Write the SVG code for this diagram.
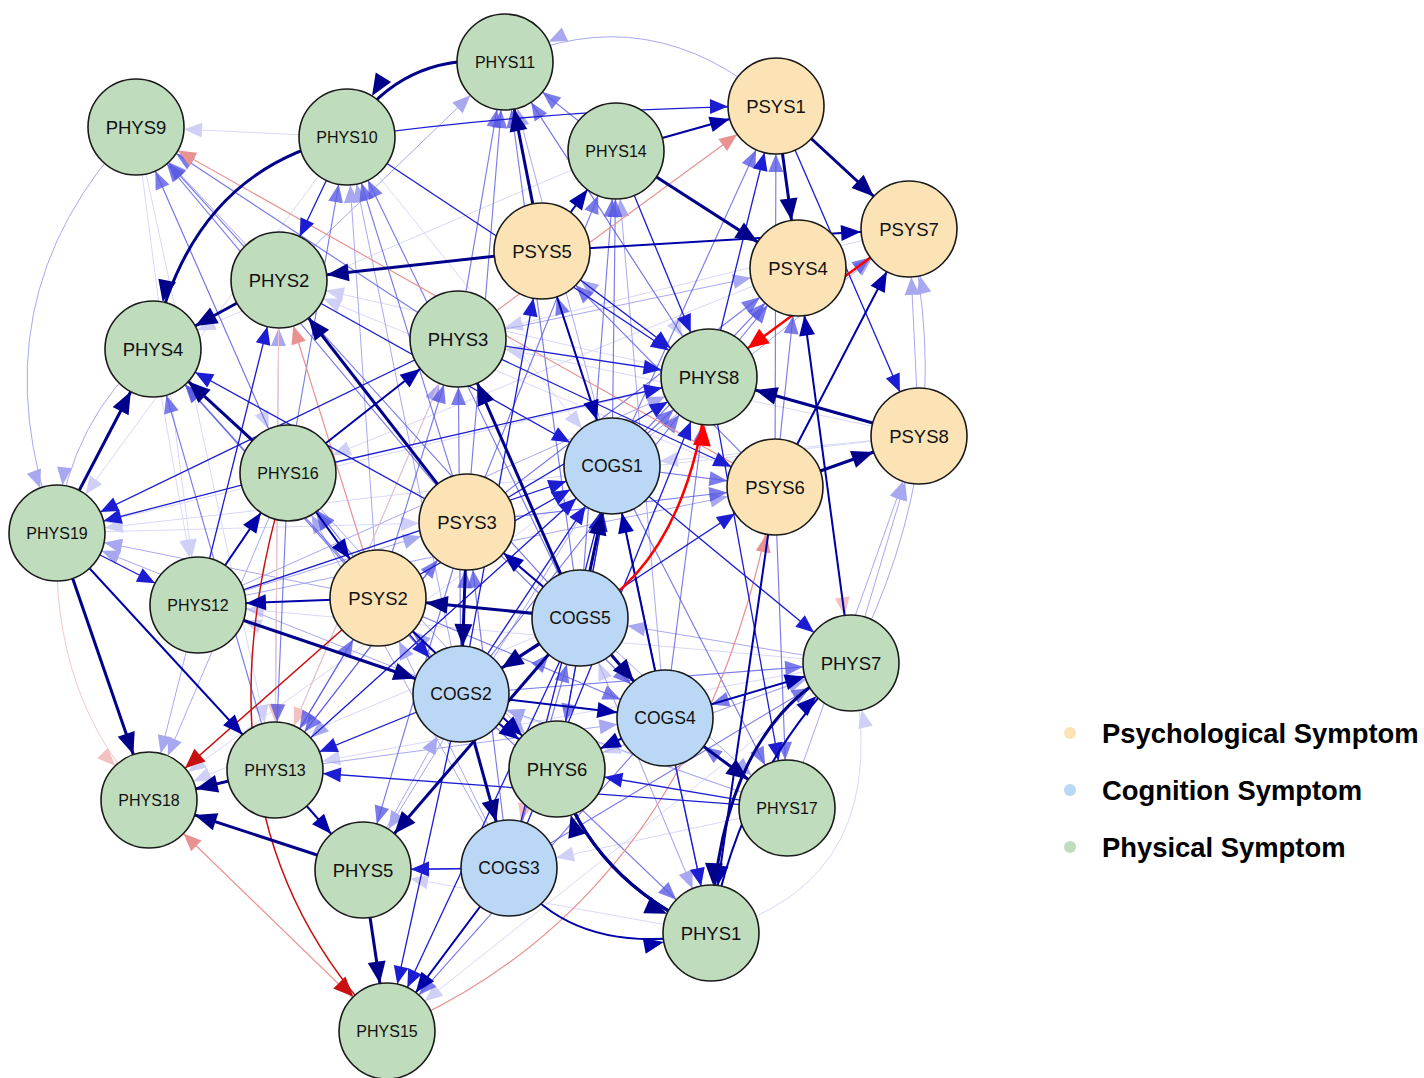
<svg xmlns="http://www.w3.org/2000/svg" width="1424" height="1078" viewBox="0 0 1424 1078">
<style>
.e1{stroke:#00008b;stroke-width:3;fill:none;marker-end:url(#a1)}
.e2{stroke:#0000a8;stroke-width:2;fill:none;marker-end:url(#a2)}
.e3{stroke:#1c1cd2;stroke-width:1.3;fill:none;marker-end:url(#a3)}
.e4{stroke:#5a5ae4;stroke-opacity:.8;stroke-width:1.15;fill:none;marker-end:url(#a4)}
.e5{stroke:#a8a8f0;stroke-width:1;fill:none;marker-end:url(#a5)}
.e6{stroke:#d8d8f9;stroke-width:1;fill:none;marker-end:url(#a6)}
.r1{stroke:#ff0000;stroke-width:2.5;fill:none;marker-end:url(#b1)}
.r2{stroke:#c81010;stroke-width:1.5;fill:none;marker-end:url(#b2)}
.r3{stroke:#e89292;stroke-width:1.2;fill:none;marker-end:url(#b3)}
.r4{stroke:#f4c8c8;stroke-width:1;fill:none;marker-end:url(#b4)}
.n circle{stroke:#1a1a1a;stroke-width:1.6}
.ph{fill:#bfdcbd}.ps{fill:#fbe3b6}.co{fill:#bad7f6}
.n text{font-family:"Liberation Sans",Arial,sans-serif;fill:#111;text-anchor:middle}
.t5{font-size:18.5px}.tc{font-size:17.5px}.t6{font-size:16px}
.lg{font-family:"Liberation Sans",Arial,sans-serif;font-weight:bold;font-size:27.4px;fill:#000}
</style>
<defs>
<marker id="a1" markerUnits="userSpaceOnUse" viewBox="0 -10 80 20" markerWidth="80" markerHeight="20" refX="80" refY="0" orient="auto"><path d="M32,0 L10,-9 L10,9Z" fill="#00008b"/></marker>
<marker id="a2" markerUnits="userSpaceOnUse" viewBox="0 -10 80 20" markerWidth="80" markerHeight="20" refX="80" refY="0" orient="auto"><path d="M32,0 L12,-8 L12,8Z" fill="#0000a8"/></marker>
<marker id="a3" markerUnits="userSpaceOnUse" viewBox="0 -10 80 20" markerWidth="80" markerHeight="20" refX="80" refY="0" orient="auto"><path d="M32,0 L14,-7.5 L14,7.5Z" fill="#1c1cd2"/></marker>
<marker id="a4" markerUnits="userSpaceOnUse" viewBox="0 -10 80 20" markerWidth="80" markerHeight="20" refX="80" refY="0" orient="auto"><path d="M32,0 L14,-7.5 L14,7.5Z" fill="#5a5ae4" fill-opacity=".8"/></marker>
<marker id="a5" markerUnits="userSpaceOnUse" viewBox="0 -10 80 20" markerWidth="80" markerHeight="20" refX="80" refY="0" orient="auto"><path d="M32,0 L14,-7.5 L14,7.5Z" fill="#a8a8f0"/></marker>
<marker id="a6" markerUnits="userSpaceOnUse" viewBox="0 -10 80 20" markerWidth="80" markerHeight="20" refX="80" refY="0" orient="auto"><path d="M32,0 L14,-7.5 L14,7.5Z" fill="#d0d0f7"/></marker>
<marker id="b1" markerUnits="userSpaceOnUse" viewBox="0 -10 80 20" markerWidth="80" markerHeight="20" refX="80" refY="0" orient="auto"><path d="M32,0 L11,-9 L11,9Z" fill="#ff0000"/></marker>
<marker id="b2" markerUnits="userSpaceOnUse" viewBox="0 -10 80 20" markerWidth="80" markerHeight="20" refX="80" refY="0" orient="auto"><path d="M32,0 L12,-8.5 L12,8.5Z" fill="#c81010"/></marker>
<marker id="b3" markerUnits="userSpaceOnUse" viewBox="0 -10 80 20" markerWidth="80" markerHeight="20" refX="80" refY="0" orient="auto"><path d="M32,0 L14,-7.5 L14,7.5Z" fill="#e89292"/></marker>
<marker id="b4" markerUnits="userSpaceOnUse" viewBox="0 -10 80 20" markerWidth="80" markerHeight="20" refX="80" refY="0" orient="auto"><path d="M32,0 L14,-7.5 L14,7.5Z" fill="#f2c2c2"/></marker>
</defs>
<rect width="1424" height="1078" fill="#fff"/>
<g id="connectors">
<path class="e6" d="M711,933 Q900,880 851,663"/>
<line class="e6" x1="136" y1="127" x2="288" y2="473"/>
<line class="e6" x1="136" y1="127" x2="198" y2="605"/>
<line class="e6" x1="136" y1="127" x2="275" y2="770"/>
<line class="e6" x1="153" y1="349" x2="198" y2="605"/>
<line class="e6" x1="57" y1="533" x2="467" y2="522"/>
<line class="e6" x1="851" y1="663" x2="557" y2="769"/>
<line class="e6" x1="787" y1="808" x2="509" y2="868"/>
<line class="e6" x1="711" y1="933" x2="580" y2="618"/>
<line class="e6" x1="919" y1="436" x2="612" y2="466"/>
<line class="e6" x1="909" y1="229" x2="458" y2="339"/>
<line class="e6" x1="798" y1="268" x2="288" y2="473"/>
<line class="e6" x1="616" y1="151" x2="153" y2="349"/>
<line class="e6" x1="347" y1="137" x2="57" y2="533"/>
<line class="e6" x1="709" y1="377" x2="57" y2="533"/>
<line class="e6" x1="851" y1="663" x2="198" y2="605"/>
<line class="e6" x1="711" y1="933" x2="363" y2="870"/>
<line class="e6" x1="851" y1="663" x2="387" y2="1031"/>
<line class="e6" x1="612" y1="466" x2="149" y2="800"/>
<line class="e6" x1="580" y1="618" x2="149" y2="800"/>
<line class="e6" x1="709" y1="377" x2="279" y2="280"/>
<line class="e6" x1="775" y1="487" x2="279" y2="280"/>
<line class="e6" x1="919" y1="436" x2="458" y2="339"/>
<line class="e6" x1="505" y1="62" x2="709" y2="377"/>
<line class="e6" x1="347" y1="137" x2="612" y2="466"/>
<line class="e6" x1="347" y1="137" x2="136" y2="127"/>
<line class="e6" x1="919" y1="436" x2="57" y2="533"/>
<line class="e6" x1="787" y1="808" x2="198" y2="605"/>
<line class="e6" x1="851" y1="663" x2="275" y2="770"/>
<path class="e5" d="M776,106 Q650,-5 505,62"/>
<path class="e5" d="M136,127 Q-30,300 57,533"/>
<path class="e5" d="M153,349 Q70,420 57,533"/>
<line class="e5" x1="198" y1="605" x2="149" y2="800"/>
<line class="e5" x1="288" y1="473" x2="149" y2="800"/>
<path class="e5" d="M851,663 Q960,450 909,229"/>
<line class="e5" x1="919" y1="436" x2="909" y2="229"/>
<line class="e5" x1="851" y1="663" x2="919" y2="436"/>
<line class="e5" x1="787" y1="808" x2="919" y2="436"/>
<line class="e5" x1="461" y1="694" x2="347" y2="137"/>
<line class="e5" x1="378" y1="598" x2="347" y2="137"/>
<line class="e5" x1="612" y1="466" x2="505" y2="62"/>
<line class="e5" x1="279" y1="280" x2="505" y2="62"/>
<line class="e5" x1="665" y1="718" x2="616" y2="151"/>
<line class="e5" x1="279" y1="280" x2="136" y2="127"/>
<line class="e5" x1="198" y1="605" x2="709" y2="377"/>
<line class="e5" x1="275" y1="770" x2="279" y2="280"/>
<line class="e5" x1="461" y1="694" x2="57" y2="533"/>
<line class="e5" x1="378" y1="598" x2="57" y2="533"/>
<line class="e5" x1="612" y1="466" x2="275" y2="770"/>
<line class="e5" x1="198" y1="605" x2="467" y2="522"/>
<line class="e5" x1="509" y1="868" x2="378" y2="598"/>
<line class="e5" x1="557" y1="769" x2="851" y2="663"/>
<line class="e5" x1="580" y1="618" x2="787" y2="808"/>
<line class="e5" x1="612" y1="466" x2="363" y2="870"/>
<line class="e5" x1="288" y1="473" x2="557" y2="769"/>
<line class="e5" x1="275" y1="770" x2="665" y2="718"/>
<line class="e5" x1="198" y1="605" x2="775" y2="487"/>
<line class="e5" x1="612" y1="466" x2="909" y2="229"/>
<line class="e5" x1="458" y1="339" x2="798" y2="268"/>
<line class="e5" x1="709" y1="377" x2="542" y2="251"/>
<line class="e5" x1="275" y1="770" x2="458" y2="339"/>
<line class="e5" x1="509" y1="868" x2="288" y2="473"/>
<line class="e5" x1="580" y1="618" x2="711" y2="933"/>
<line class="e5" x1="363" y1="870" x2="461" y2="694"/>
<line class="e5" x1="557" y1="769" x2="378" y2="598"/>
<line class="e5" x1="787" y1="808" x2="461" y2="694"/>
<line class="e5" x1="851" y1="663" x2="580" y2="618"/>
<path class="r4" d="M57,533 Q50,700 149,800"/>
<line class="r4" x1="612" y1="466" x2="509" y2="868"/>
<line class="r4" x1="458" y1="339" x2="275" y2="770"/>
<line class="r4" x1="279" y1="280" x2="275" y2="770"/>
<line class="r4" x1="798" y1="268" x2="851" y2="663"/>
<line class="e4" x1="580" y1="618" x2="347" y2="137"/>
<line class="e4" x1="288" y1="473" x2="347" y2="137"/>
<line class="e4" x1="467" y1="522" x2="347" y2="137"/>
<line class="e4" x1="458" y1="339" x2="505" y2="62"/>
<line class="e4" x1="467" y1="522" x2="505" y2="62"/>
<line class="e4" x1="580" y1="618" x2="505" y2="62"/>
<line class="e4" x1="709" y1="377" x2="505" y2="62"/>
<line class="e4" x1="616" y1="151" x2="505" y2="62"/>
<line class="e4" x1="612" y1="466" x2="616" y2="151"/>
<line class="e4" x1="580" y1="618" x2="616" y2="151"/>
<line class="e4" x1="467" y1="522" x2="616" y2="151"/>
<line class="e4" x1="288" y1="473" x2="136" y2="127"/>
<line class="e4" x1="467" y1="522" x2="136" y2="127"/>
<line class="e4" x1="458" y1="339" x2="136" y2="127"/>
<line class="e4" x1="580" y1="618" x2="136" y2="127"/>
<line class="e4" x1="461" y1="694" x2="709" y2="377"/>
<line class="e4" x1="665" y1="718" x2="709" y2="377"/>
<line class="e4" x1="612" y1="466" x2="709" y2="377"/>
<line class="e4" x1="612" y1="466" x2="776" y2="106"/>
<line class="e4" x1="775" y1="487" x2="776" y2="106"/>
<line class="e4" x1="378" y1="598" x2="153" y2="349"/>
<line class="e4" x1="461" y1="694" x2="153" y2="349"/>
<line class="e4" x1="275" y1="770" x2="153" y2="349"/>
<line class="e4" x1="378" y1="598" x2="275" y2="770"/>
<line class="e4" x1="288" y1="473" x2="275" y2="770"/>
<line class="e4" x1="467" y1="522" x2="275" y2="770"/>
<line class="e4" x1="461" y1="694" x2="467" y2="522"/>
<line class="e4" x1="275" y1="770" x2="378" y2="598"/>
<line class="e4" x1="461" y1="694" x2="851" y2="663"/>
<line class="e4" x1="509" y1="868" x2="851" y2="663"/>
<line class="e4" x1="612" y1="466" x2="787" y2="808"/>
<line class="e4" x1="775" y1="487" x2="787" y2="808"/>
<line class="e4" x1="467" y1="522" x2="363" y2="870"/>
<line class="e4" x1="612" y1="466" x2="557" y2="769"/>
<line class="e4" x1="467" y1="522" x2="665" y2="718"/>
<line class="e4" x1="378" y1="598" x2="665" y2="718"/>
<line class="e4" x1="612" y1="466" x2="775" y2="487"/>
<line class="e4" x1="467" y1="522" x2="775" y2="487"/>
<line class="e4" x1="709" y1="377" x2="909" y2="229"/>
<line class="e4" x1="775" y1="487" x2="798" y2="268"/>
<line class="e4" x1="612" y1="466" x2="798" y2="268"/>
<line class="e4" x1="467" y1="522" x2="798" y2="268"/>
<line class="e4" x1="709" y1="377" x2="798" y2="268"/>
<line class="e4" x1="612" y1="466" x2="542" y2="251"/>
<line class="e4" x1="775" y1="487" x2="542" y2="251"/>
<line class="e4" x1="378" y1="598" x2="458" y2="339"/>
<line class="e4" x1="461" y1="694" x2="458" y2="339"/>
<line class="e4" x1="461" y1="694" x2="288" y2="473"/>
<line class="e4" x1="378" y1="598" x2="288" y2="473"/>
<line class="e4" x1="461" y1="694" x2="711" y2="933"/>
<line class="e4" x1="665" y1="718" x2="711" y2="933"/>
<line class="e4" x1="509" y1="868" x2="363" y2="870"/>
<line class="e4" x1="665" y1="718" x2="387" y2="1031"/>
<line class="e4" x1="275" y1="770" x2="467" y2="522"/>
<line class="e4" x1="509" y1="868" x2="467" y2="522"/>
<line class="e4" x1="787" y1="808" x2="665" y2="718"/>
<line class="e4" x1="851" y1="663" x2="665" y2="718"/>
<line class="e4" x1="509" y1="868" x2="580" y2="618"/>
<line class="e4" x1="363" y1="870" x2="580" y2="618"/>
<path class="r3" d="M387,1031 Q700,900 775,487"/>
<line class="r3" x1="387" y1="1031" x2="149" y2="800"/>
<line class="r3" x1="378" y1="598" x2="279" y2="280"/>
<line class="r3" x1="458" y1="339" x2="776" y2="106"/>
<line class="r3" x1="775" y1="487" x2="136" y2="127"/>
<path class="e3" d="M347,137 Q560,108 776,106"/>
<line class="e3" x1="776" y1="106" x2="919" y2="436"/>
<line class="e3" x1="612" y1="466" x2="711" y2="933"/>
<line class="e3" x1="57" y1="533" x2="198" y2="605"/>
<line class="e3" x1="288" y1="473" x2="57" y2="533"/>
<line class="e3" x1="787" y1="808" x2="275" y2="770"/>
<line class="e3" x1="787" y1="808" x2="557" y2="769"/>
<line class="e3" x1="347" y1="137" x2="279" y2="280"/>
<line class="e3" x1="458" y1="339" x2="57" y2="533"/>
<line class="e3" x1="467" y1="522" x2="153" y2="349"/>
<line class="e3" x1="198" y1="605" x2="279" y2="280"/>
<line class="e3" x1="542" y1="251" x2="709" y2="377"/>
<line class="e3" x1="709" y1="377" x2="776" y2="106"/>
<line class="e3" x1="461" y1="694" x2="387" y2="1031"/>
<line class="e3" x1="580" y1="618" x2="387" y2="1031"/>
<line class="e3" x1="461" y1="694" x2="612" y2="466"/>
<line class="e3" x1="378" y1="598" x2="461" y2="694"/>
<line class="e3" x1="612" y1="466" x2="851" y2="663"/>
<line class="e3" x1="709" y1="377" x2="787" y2="808"/>
<line class="e3" x1="458" y1="339" x2="709" y2="377"/>
<line class="e3" x1="288" y1="473" x2="709" y2="377"/>
<line class="e3" x1="509" y1="868" x2="612" y2="466"/>
<line class="e3" x1="458" y1="339" x2="775" y2="487"/>
<line class="e3" x1="275" y1="770" x2="612" y2="466"/>
<line class="e3" x1="279" y1="280" x2="612" y2="466"/>
<line class="e3" x1="467" y1="522" x2="709" y2="377"/>
<line class="e3" x1="461" y1="694" x2="775" y2="487"/>
<line class="e3" x1="198" y1="605" x2="612" y2="466"/>
<line class="e3" x1="347" y1="137" x2="709" y2="377"/>
<line class="e3" x1="461" y1="694" x2="275" y2="770"/>
<line class="e3" x1="509" y1="868" x2="363" y2="870"/>
<line class="e3" x1="616" y1="151" x2="709" y2="377"/>
<line class="e3" x1="378" y1="598" x2="612" y2="466"/>
<line class="e3" x1="557" y1="769" x2="612" y2="466"/>
<line class="e3" x1="461" y1="694" x2="542" y2="251"/>
<line class="e3" x1="509" y1="868" x2="709" y2="377"/>
<path class="r2" d="M288,473 Q180,820 387,1031"/>
<line class="r2" x1="378" y1="598" x2="149" y2="800"/>
<line class="e2" x1="542" y1="251" x2="909" y2="229"/>
<line class="e2" x1="616" y1="151" x2="776" y2="106"/>
<line class="e2" x1="775" y1="487" x2="909" y2="229"/>
<line class="e2" x1="580" y1="618" x2="467" y2="522"/>
<line class="e2" x1="461" y1="694" x2="665" y2="718"/>
<path class="e2" d="M509,868 Q570,960 711,933"/>
<line class="e2" x1="665" y1="718" x2="851" y2="663"/>
<path class="e2" d="M711,933 Q740,770 851,663"/>
<line class="e2" x1="775" y1="487" x2="711" y2="933"/>
<line class="e2" x1="57" y1="533" x2="275" y2="770"/>
<line class="e2" x1="275" y1="770" x2="363" y2="870"/>
<line class="e2" x1="509" y1="868" x2="387" y2="1031"/>
<line class="e2" x1="378" y1="598" x2="198" y2="605"/>
<line class="e2" x1="198" y1="605" x2="288" y2="473"/>
<line class="e2" x1="288" y1="473" x2="378" y2="598"/>
<line class="e2" x1="542" y1="251" x2="612" y2="466"/>
<line class="e2" x1="542" y1="251" x2="616" y2="151"/>
<line class="e2" x1="461" y1="694" x2="557" y2="769"/>
<line class="e2" x1="378" y1="598" x2="557" y2="769"/>
<line class="e2" x1="665" y1="718" x2="557" y2="769"/>
<line class="e2" x1="851" y1="663" x2="798" y2="268"/>
<line class="e2" x1="288" y1="473" x2="458" y2="339"/>
<line class="e2" x1="665" y1="718" x2="612" y2="466"/>
<path class="e1" d="M505,62 Q400,50 347,137"/>
<path class="e1" d="M347,137 Q190,170 153,349"/>
<line class="e1" x1="542" y1="251" x2="505" y2="62"/>
<line class="e1" x1="542" y1="251" x2="279" y2="280"/>
<line class="e1" x1="616" y1="151" x2="798" y2="268"/>
<line class="e1" x1="776" y1="106" x2="798" y2="268"/>
<line class="e1" x1="776" y1="106" x2="909" y2="229"/>
<line class="e1" x1="919" y1="436" x2="709" y2="377"/>
<line class="e1" x1="775" y1="487" x2="919" y2="436"/>
<line class="e1" x1="580" y1="618" x2="378" y2="598"/>
<line class="e1" x1="580" y1="618" x2="461" y2="694"/>
<line class="e1" x1="580" y1="618" x2="665" y2="718"/>
<line class="e1" x1="580" y1="618" x2="612" y2="466"/>
<line class="e1" x1="580" y1="618" x2="458" y2="339"/>
<line class="e1" x1="580" y1="618" x2="363" y2="870"/>
<line class="e1" x1="461" y1="694" x2="509" y2="868"/>
<line class="e1" x1="467" y1="522" x2="461" y2="694"/>
<path class="e1" d="M557,769 Q590,880 711,933"/>
<path class="e1" d="M711,933 Q590,880 557,769"/>
<line class="e1" x1="665" y1="718" x2="787" y2="808"/>
<path class="e1" d="M851,663 Q720,720 711,933"/>
<line class="e1" x1="198" y1="605" x2="461" y2="694"/>
<line class="e1" x1="57" y1="533" x2="149" y2="800"/>
<line class="e1" x1="57" y1="533" x2="153" y2="349"/>
<line class="e1" x1="275" y1="770" x2="149" y2="800"/>
<line class="e1" x1="363" y1="870" x2="149" y2="800"/>
<line class="e1" x1="363" y1="870" x2="387" y2="1031"/>
<line class="e1" x1="288" y1="473" x2="153" y2="349"/>
<line class="e1" x1="467" y1="522" x2="279" y2="280"/>
<line class="e1" x1="279" y1="280" x2="153" y2="349"/>
<line class="r1" x1="909" y1="229" x2="709" y2="377"/>
<path class="r1" d="M580,618 Q690,560 709,377"/>
</g>
<g id="PHYS11" class="n"><circle class="ph" cx="505" cy="62" r="48"/><text class="t6" x="505" y="68">PHYS11</text></g>
<g id="PHYS9" class="n"><circle class="ph" cx="136" cy="127" r="48"/><text class="t5" x="136" y="134">PHYS9</text></g>
<g id="PHYS10" class="n"><circle class="ph" cx="347" cy="137" r="48"/><text class="t6" x="347" y="143">PHYS10</text></g>
<g id="PSYS1" class="n"><circle class="ps" cx="776" cy="106" r="48"/><text class="t5" x="776" y="113">PSYS1</text></g>
<g id="PHYS14" class="n"><circle class="ph" cx="616" cy="151" r="48"/><text class="t6" x="616" y="157">PHYS14</text></g>
<g id="PSYS7" class="n"><circle class="ps" cx="909" cy="229" r="48"/><text class="t5" x="909" y="236">PSYS7</text></g>
<g id="PSYS5" class="n"><circle class="ps" cx="542" cy="251" r="48"/><text class="t5" x="542" y="258">PSYS5</text></g>
<g id="PSYS4" class="n"><circle class="ps" cx="798" cy="268" r="48"/><text class="t5" x="798" y="275">PSYS4</text></g>
<g id="PHYS2" class="n"><circle class="ph" cx="279" cy="280" r="48"/><text class="t5" x="279" y="287">PHYS2</text></g>
<g id="PHYS4" class="n"><circle class="ph" cx="153" cy="349" r="48"/><text class="t5" x="153" y="356">PHYS4</text></g>
<g id="PHYS3" class="n"><circle class="ph" cx="458" cy="339" r="48"/><text class="t5" x="458" y="346">PHYS3</text></g>
<g id="PHYS8" class="n"><circle class="ph" cx="709" cy="377" r="48"/><text class="t5" x="709" y="384">PHYS8</text></g>
<g id="PSYS8" class="n"><circle class="ps" cx="919" cy="436" r="48"/><text class="t5" x="919" y="443">PSYS8</text></g>
<g id="COGS1" class="n"><circle class="co" cx="612" cy="466" r="48"/><text class="tc" x="612" y="472">COGS1</text></g>
<g id="PSYS6" class="n"><circle class="ps" cx="775" cy="487" r="48"/><text class="t5" x="775" y="494">PSYS6</text></g>
<g id="PHYS16" class="n"><circle class="ph" cx="288" cy="473" r="48"/><text class="t6" x="288" y="479">PHYS16</text></g>
<g id="PSYS3" class="n"><circle class="ps" cx="467" cy="522" r="48"/><text class="t5" x="467" y="529">PSYS3</text></g>
<g id="PHYS19" class="n"><circle class="ph" cx="57" cy="533" r="48"/><text class="t6" x="57" y="539">PHYS19</text></g>
<g id="PHYS12" class="n"><circle class="ph" cx="198" cy="605" r="48"/><text class="t6" x="198" y="611">PHYS12</text></g>
<g id="PSYS2" class="n"><circle class="ps" cx="378" cy="598" r="48"/><text class="t5" x="378" y="605">PSYS2</text></g>
<g id="COGS5" class="n"><circle class="co" cx="580" cy="618" r="48"/><text class="tc" x="580" y="624">COGS5</text></g>
<g id="PHYS7" class="n"><circle class="ph" cx="851" cy="663" r="48"/><text class="t5" x="851" y="670">PHYS7</text></g>
<g id="COGS2" class="n"><circle class="co" cx="461" cy="694" r="48"/><text class="tc" x="461" y="700">COGS2</text></g>
<g id="COGS4" class="n"><circle class="co" cx="665" cy="718" r="48"/><text class="tc" x="665" y="724">COGS4</text></g>
<g id="PHYS6" class="n"><circle class="ph" cx="557" cy="769" r="48"/><text class="t5" x="557" y="776">PHYS6</text></g>
<g id="PHYS13" class="n"><circle class="ph" cx="275" cy="770" r="48"/><text class="t6" x="275" y="776">PHYS13</text></g>
<g id="PHYS18" class="n"><circle class="ph" cx="149" cy="800" r="48"/><text class="t6" x="149" y="806">PHYS18</text></g>
<g id="PHYS17" class="n"><circle class="ph" cx="787" cy="808" r="48"/><text class="t6" x="787" y="814">PHYS17</text></g>
<g id="PHYS5" class="n"><circle class="ph" cx="363" cy="870" r="48"/><text class="t5" x="363" y="877">PHYS5</text></g>
<g id="COGS3" class="n"><circle class="co" cx="509" cy="868" r="48"/><text class="tc" x="509" y="874">COGS3</text></g>
<g id="PHYS1" class="n"><circle class="ph" cx="711" cy="933" r="48"/><text class="t5" x="711" y="940">PHYS1</text></g>
<g id="PHYS15" class="n"><circle class="ph" cx="387" cy="1031" r="48"/><text class="t6" x="387" y="1037">PHYS15</text></g>
<g id="legend">
<circle cx="1070" cy="733" r="6" fill="#fbe3b6"/><text class="lg" x="1102" y="743">Psychological Symptom</text>
<circle cx="1070" cy="790" r="6" fill="#bad7f6"/><text class="lg" x="1102" y="800">Cognition Symptom</text>
<circle cx="1070" cy="847" r="6" fill="#bfdcbd"/><text class="lg" x="1102" y="857">Physical Symptom</text>
</g>
</svg>
